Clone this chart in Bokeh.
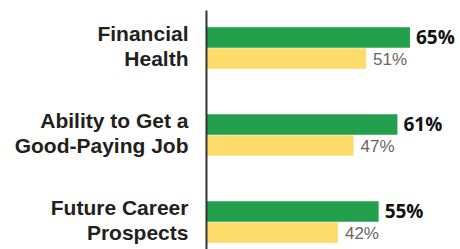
from bokeh.plotting import figure
from bokeh.models import ColumnDataSource, Range1d
from bokeh.core.properties import value
from bokeh.embed import file_html
from bokeh.resources import INLINE

# Data
categories_line1 = ["Financial", "Ability to Get a", "Future Career"]
categories_line2 = ["Health", "Good-Paying Job", "Prospects"]
series_a = [65, 61, 55]   # green
series_b = [51, 47, 42]   # yellow
label_a = [f"{v}%" for v in series_a]
label_b = [f"{v}%" for v in series_b]

GREEN = "#22a04b"
YELLOW = "#fddc6b"
DARK = "#231f20"
GRAY = "#666666"

idx = list(range(len(categories_line1)))
bar_h = 0.236
ya = [i - 0.121 for i in idx]
yb = [i + 0.121 for i in idx]

src = ColumnDataSource(dict(
    idx=idx, ya=ya, yb=yb, a=series_a, b=series_b,
    la=label_a, lb=label_b, c1=categories_line1, c2=categories_line2,
    zero=[0] * len(idx),
))

p = figure(width=460, height=249, output_backend="svg", toolbar_location=None,
           x_range=Range1d(-65.8, 81.15), y_range=Range1d(2.316, -0.546),
           min_border=0, min_border_left=0, min_border_right=0,
           min_border_top=0, min_border_bottom=0)
p.axis.visible = False
p.grid.visible = False
p.outline_line_color = None
p.background_fill_color = "white"
p.border_fill_color = "white"

p.hbar(y="ya", left=0, right="a", height=bar_h, source=src,
       fill_color=GREEN, line_color=None)
p.hbar(y="yb", left=0, right="b", height=bar_h, source=src,
       fill_color=YELLOW, line_color=None)

# vertical axis line
p.segment(x0=[0], y0=[-0.431], x1=[0], y1=[2.316], line_color="#333333", line_width=2)

# value labels
p.text(x="a", y="ya", text="la", source=src, x_offset=6, y_offset=0,
       text_font=value("Open Sans"), text_font_style="bold", text_font_size="19px",
       text_color="#111111", text_baseline="middle", text_align="left")
p.text(x="b", y="yb", text="lb", source=src, x_offset=7, y_offset=1,
       text_font=value("Liberation Sans"), text_font_size="17px",
       text_color=GRAY, text_baseline="middle", text_align="left")

# category labels
p.text(x="zero", y="idx", text="c1", source=src, x_offset=-18, y_offset=-15,
       text_font=value("Liberation Sans"), text_font_style="bold", text_font_size="21px",
       text_color=DARK, text_baseline="alphabetic", text_align="right")
p.text(x="zero", y="idx", text="c2", source=src, x_offset=-18, y_offset=10,
       text_font=value("Liberation Sans"), text_font_style="bold", text_font_size="21px",
       text_color=DARK, text_baseline="alphabetic", text_align="right")

open("out.html", "w").write(file_html(p, INLINE))
